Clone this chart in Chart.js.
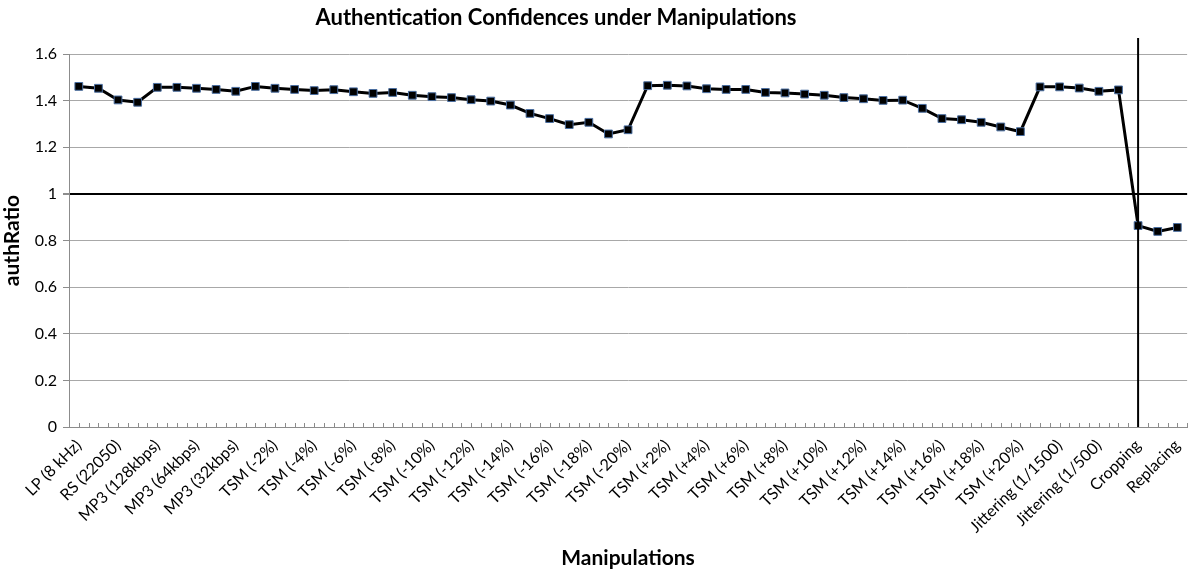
<!DOCTYPE html>
<html>
<head>
<meta charset="utf-8">
<script src="https://cdn.jsdelivr.net/npm/chart.js@4/dist/chart.umd.min.js"></script>
<style>
  html, body { margin: 0; padding: 0; background: #fff; }
  #wrap { width: 1200px; height: 576px; }
</style>
</head>
<body>
<div id="wrap"><canvas id="authChart" width="1200" height="576"></canvas></div>
<script>
// Categories (only every other one is labelled on the axis)
const manipulations = [
  'LP (8 kHz)', '', 'RS (22050)', '', 'MP3 (128kbps)', '', 'MP3 (64kbps)', '', 'MP3 (32kbps)', '',
  'TSM (-2%)', '', 'TSM (-4%)', '', 'TSM (-6%)', '', 'TSM (-8%)', '', 'TSM (-10%)', '',
  'TSM (-12%)', '', 'TSM (-14%)', '', 'TSM (-16%)', '', 'TSM (-18%)', '', 'TSM (-20%)', '',
  'TSM (+2%)', '', 'TSM (+4%)', '', 'TSM (+6%)', '', 'TSM (+8%)', '', 'TSM (+10%)', '',
  'TSM (+12%)', '', 'TSM (+14%)', '', 'TSM (+16%)', '', 'TSM (+18%)', '', 'TSM (+20%)', '',
  'Jittering (1/1500)', '', 'Jittering (1/500)', '', 'Cropping', '', 'Replacing'
];

// authRatio values
const authRatio = [
  1.461, 1.453, 1.403, 1.393, 1.457, 1.457, 1.453, 1.448, 1.440, 1.461,
  1.453, 1.448, 1.443, 1.447, 1.438, 1.431, 1.435, 1.423, 1.417, 1.413,
  1.404, 1.398, 1.381, 1.345, 1.323, 1.297, 1.307, 1.257, 1.275, 1.464,
  1.466, 1.463, 1.451, 1.448, 1.448, 1.435, 1.433, 1.428, 1.423, 1.413,
  1.408, 1.401, 1.402, 1.367, 1.323, 1.318, 1.307, 1.287, 1.267, 1.459,
  1.459, 1.454, 1.440, 1.446, 0.864, 0.839, 0.856
];

// Y axis ticks
const yTicks = [0, 0.2, 0.4, 0.6, 0.8, 1, 1.2, 1.4, 1.6];
const thresholdValue = 1;
const markerCategory = 'Cropping';

const FONT = 'Lato, "Open Sans", sans-serif';

// Title drawn slightly left of centre, like the original
const titlePlugin = {
  id: 'titleText',
  afterDraw(chart) {
    const ctx = chart.ctx;
    ctx.save();
    ctx.font = 'bold 22px ' + FONT;
    ctx.fillStyle = '#000';
    ctx.textAlign = 'center';
    ctx.textBaseline = 'middle';
    ctx.fillText('Authentication Confidences under Manipulations', 556, 18);
    ctx.restore();
  }
};

// Small tick marks on the x axis at every half category, pointing up
const minorTicks = {
  id: 'minorTicks',
  afterDraw(chart) {
    const x = chart.scales.x;
    const area = chart.chartArea;
    const half = (x.getPixelForValue(1) - x.getPixelForValue(0)) / 2;
    const ctx = chart.ctx;
    ctx.save();
    ctx.strokeStyle = '#8c8c8c';
    ctx.lineWidth = 1;
    ctx.beginPath();
    for (let i = 0; i <= manipulations.length * 2; i++) {
      const px = Math.round(area.left + i * half) + 0.5;
      ctx.moveTo(px, area.bottom);
      ctx.lineTo(px, area.bottom - 4);
    }
    ctx.stroke();

    // vertical marker at Cropping
    const cx = x.getPixelForValue(manipulations.indexOf(markerCategory));
    ctx.strokeStyle = '#000';
    ctx.lineWidth = 2;
    ctx.beginPath();
    ctx.moveTo(cx, area.top - 16);
    ctx.lineTo(cx, area.bottom);
    ctx.stroke();
    ctx.restore();
  }
};

new Chart(document.getElementById('authChart'), {
  type: 'line',
  data: {
    labels: manipulations,
    datasets: [{
      label: 'authRatio',
      data: authRatio,
      borderColor: '#000',
      borderWidth: 3,
      tension: 0,
      pointStyle: 'rect',
      pointRadius: 5.5,
      pointBackgroundColor: '#000',
      pointBorderColor: '#4a6ea0',
      pointBorderWidth: 1
    }]
  },
  options: {
    responsive: false,
    animation: false,
    layout: { padding: { top: 54, right: 11, left: 0, bottom: 0 } },
    plugins: {
      legend: { display: false },
      tooltip: { enabled: false }
    },
    scales: {
      x: {
        type: 'category',
        offset: true,
        afterFit: s => { s.height = 149; },
        border: { color: '#8c8c8c', width: 1 },
        grid: { display: true, drawOnChartArea: false, drawTicks: false },
        ticks: {
          autoSkip: false,
          minRotation: 45,
          maxRotation: 45,
          padding: 9,
          color: '#000',
          font: { family: FONT, size: 16 }
        },
        title: {
          display: true,
          text: 'Manipulations',
          color: '#000',
          font: { family: FONT, size: 21, weight: 'bold' },
          padding: { top: 14, bottom: 5 }
        }
      },
      y: {
        min: 0,
        max: 1.6,
        afterFit: s => { s.width = 69; },
        afterBuildTicks: s => { s.ticks = yTicks.map(v => ({ value: v })); },
        border: { color: '#8c8c8c', width: 1 },
        grid: {
          color: c => c.tick && c.tick.value === thresholdValue ? '#000' : '#a8a8a8',
          lineWidth: c => c.tick && c.tick.value === thresholdValue ? 2 : 1,
          tickColor: '#8c8c8c',
          tickLength: 6
        },
        ticks: {
          padding: 6,
          color: '#000',
          font: { family: FONT, size: 16 },
          callback: v => String(Math.round(v * 10) / 10)
        },
        title: {
          display: true,
          text: 'authRatio',
          color: '#000',
          font: { family: FONT, size: 21, weight: 'bold' },
          padding: { top: 0, bottom: 4 }
        }
      }
    }
  },
  plugins: [titlePlugin, minorTicks]
});
</script>
</body>
</html>
